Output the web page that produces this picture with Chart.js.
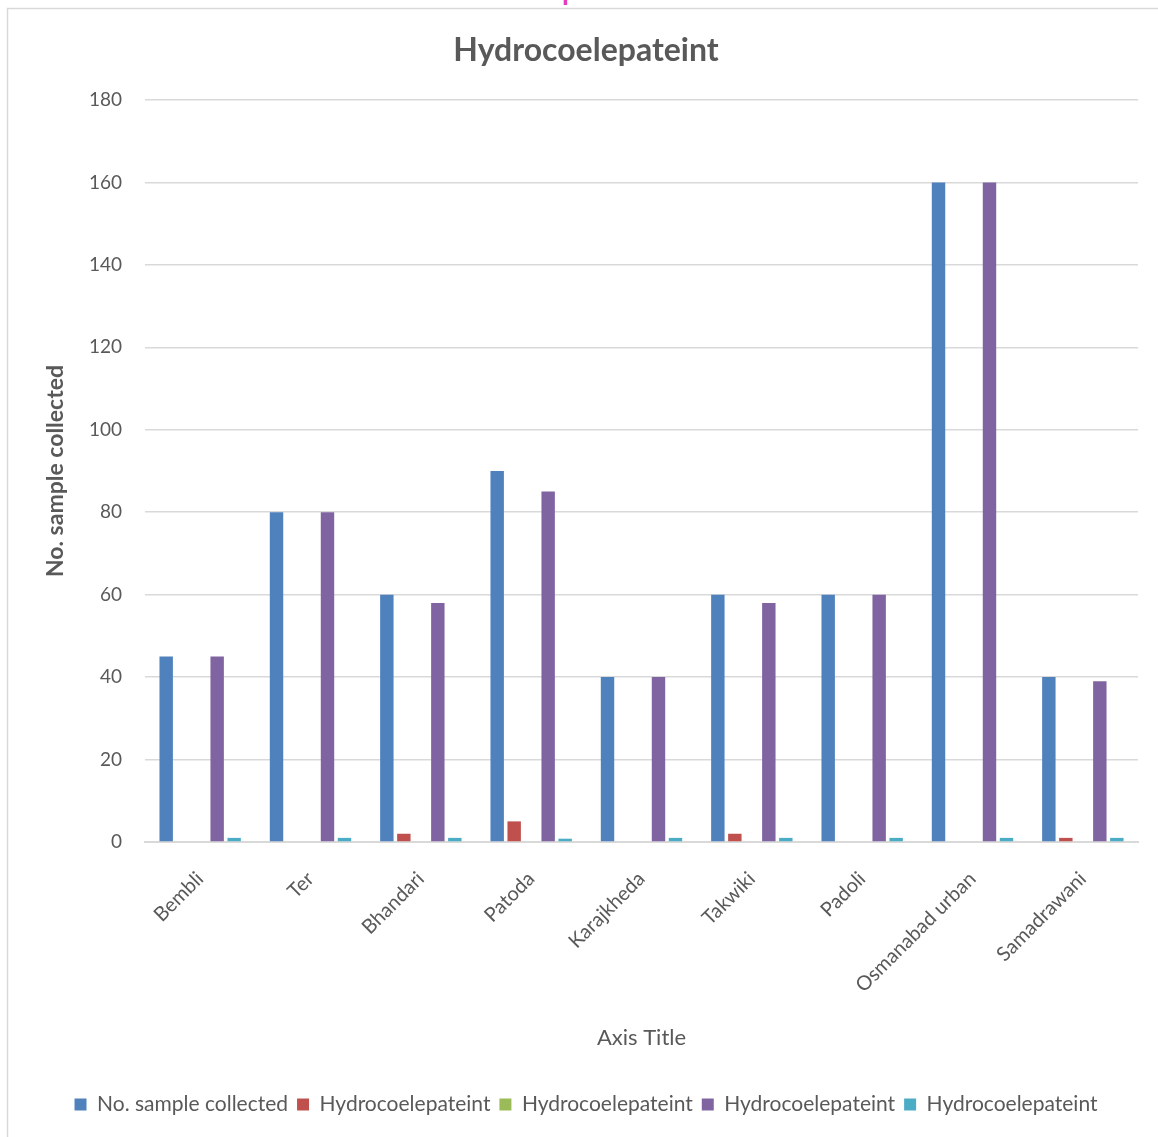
<!DOCTYPE html>
<html>
<head>
<meta charset="utf-8">
<script src="https://cdn.jsdelivr.net/npm/chart.js@4.4.1/dist/chart.umd.min.js"></script>
<style>
  html, body { margin: 0; padding: 0; background: #ffffff; }
  #wrap { width: 1158px; height: 1137px; position: relative; }
</style>
</head>
<body>
<div id="wrap"><canvas id="c" width="1158" height="1137"></canvas></div>
<script>
// Villages surveyed
const villages = ['Bembli', 'Ter', 'Bhandari', 'Patoda', 'Karajkheda', 'Takwiki', 'Padoli', 'Osmanabad urban', 'Samadrawani'];

// Series values per village
const samplesCollected = [45, 80, 60, 90, 40, 60, 60, 160, 40];
const hydroSeriesA     = [0, 0, 2, 5, 0, 2, 0, 0, 1];
const hydroSeriesB     = [0, 0, 0, 0, 0, 0, 0, 0, 0];
const hydroSeriesC     = [45, 80, 58, 85, 40, 58, 60, 160, 39];
const hydroSeriesD     = [1, 1, 1, 0.8, 1, 1, 1, 1, 1];

const seriesNames = ['No. sample collected', 'Hydrocoelepateint', 'Hydrocoelepateint', 'Hydrocoelepateint', 'Hydrocoelepateint'];
const seriesColors = ['#4f81bd', '#c0504d', '#9bbb59', '#8064a2', '#4bacc6'];

const yTicks = [0, 20, 40, 60, 80, 100, 120, 140, 160, 180];

const FONT = 'Lato, "Open Sans", "DejaVu Sans", sans-serif';
const TEXT = '#595959';

// Outer frame and the clipped heading above it
const framePlugin = {
  id: 'frame',
  beforeDraw(chart) {
    const ctx = chart.ctx;
    ctx.save();
    ctx.fillStyle = '#ffffff';
    ctx.fillRect(0, 0, chart.width, chart.height);
    ctx.strokeStyle = '#d9d9d9';
    ctx.lineWidth = 1.5;
    ctx.strokeRect(7.5, 8.5, 1300, 1300);
    ctx.fillStyle = '#e83cc0';
    ctx.font = 'bold 28px ' + FONT;
    ctx.textAlign = 'center';
    ctx.textBaseline = 'alphabetic';
    ctx.fillText('Graph 6', 567, 0);
    ctx.restore();
  }
};

const datasets = [samplesCollected, hydroSeriesA, hydroSeriesB, hydroSeriesC, hydroSeriesD].map((d, i) => ({
  label: seriesNames[i],
  data: d,
  backgroundColor: seriesColors[i],
  borderWidth: 0,
  categoryPercentage: 0.77,
  barPercentage: 0.79
}));

new Chart(document.getElementById('c'), {
  type: 'bar',
  data: { labels: villages, datasets },
  plugins: [framePlugin],
  options: {
    responsive: false,
    animation: false,
    devicePixelRatio: 1,
    layout: { padding: { left: 34, right: 20, top: 0, bottom: 12 } },
    plugins: {
      title: {
        display: true,
        text: 'Hydrocoelepateint',
        color: TEXT,
        font: { family: FONT, size: 32, weight: 'bold' },
        padding: { top: 31, bottom: 30.6 }
      },
      legend: {
        position: 'bottom',
        labels: {
          color: TEXT,
          font: { family: FONT, size: 21 },
          boxWidth: 12,
          boxHeight: 12,
          padding: 9
        }
      },
      tooltip: { enabled: false }
    },
    scales: {
      x: {
        grid: { display: false },
        border: { display: true, color: '#d9d9d9', width: 2 },
        ticks: {
          color: TEXT,
          font: { family: FONT, size: 20 },
          minRotation: 45,
          maxRotation: 45,
          padding: 17,
          autoSkip: false
        },
        title: {
          display: true,
          text: 'Axis Title',
          color: TEXT,
          font: { family: FONT, size: 22 },
          padding: { top: 0, bottom: 34 }
        },
        afterFit(scale) { scale.height = 243; }
      },
      y: {
        min: 0,
        max: 180,
        afterBuildTicks(scale) { scale.ticks = yTicks.map(v => ({ value: v })); },
        grid: { color: '#d9d9d9', lineWidth: 1.5, drawTicks: false },
        border: { display: false },
        ticks: {
          color: TEXT,
          font: { family: FONT, size: 19 },
          padding: 23
        },
        title: {
          display: true,
          text: 'No. sample collected',
          color: TEXT,
          font: { family: FONT, size: 23, weight: 'bold' },
          padding: { top: 8, bottom: 0 }
        },
        afterFit(scale) { scale.width = 111; }
      }
    }
  }
});
</script>
</body>
</html>
